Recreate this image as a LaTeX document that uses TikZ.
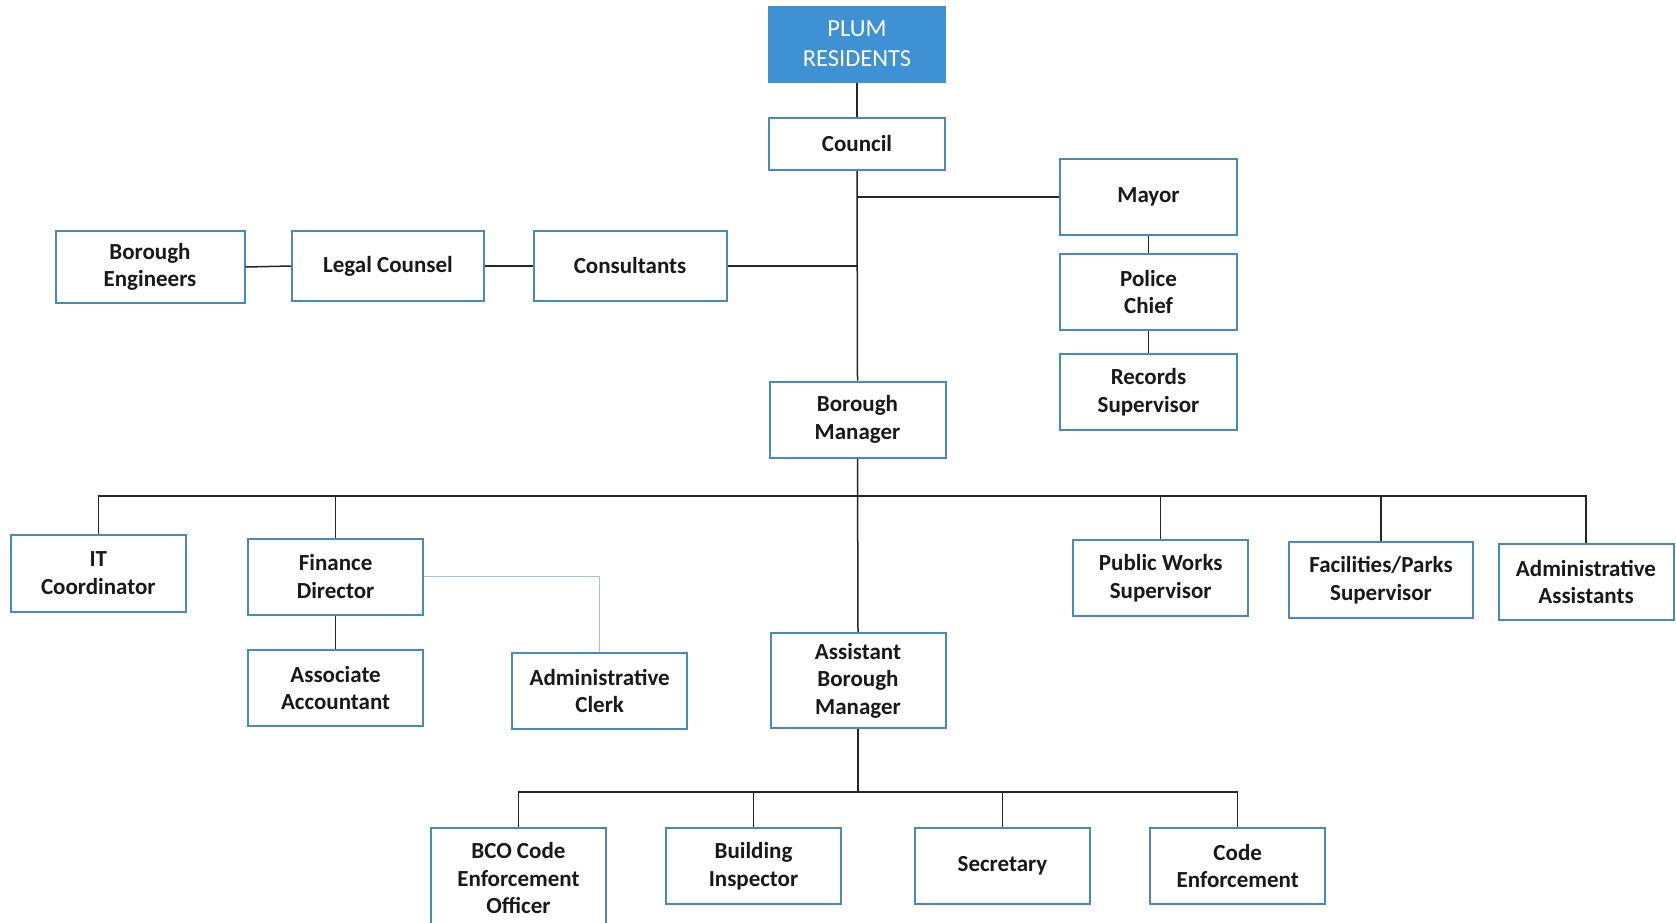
\documentclass[tikz,border=0pt]{standalone}
\usepackage{fontspec}
\setmainfont{Carlito}
\definecolor{boxblue}{RGB}{72,138,190}
\definecolor{topblue}{RGB}{62,145,210}
\definecolor{paleblue}{RGB}{160,196,222}
\tikzset{
    post/.style={draw=boxblue,line width=2pt,fill=white,align=center,inner sep=0pt,
        font=\fontsize{23}{27.5}\selectfont\bfseries,text=black!90},
    head/.style={post,fill=topblue,draw=topblue,text=white,font=\fontsize{24.5}{30}\selectfont},
    link/.style={line width=1.5pt,black!85},
    dotted link/.style={line width=1pt,paleblue}
}
\begin{document}
\begin{tikzpicture}[x=1pt,y=-1pt]
    \clip (0,0) rectangle (1676,922);
    \fill[white] (0,0) rectangle (1676,922);
    % top of the chart
    \node[head,minimum width=176,minimum height=75] (residents) at (857,44) {PLUM\\RESIDENTS};
    \node[post,minimum width=176,minimum height=52] (council) at (857,144) {Council};
    \node[post,minimum width=177,minimum height=76] (mayor) at (1148.5,197) {Mayor};
    \node[post,minimum width=177,minimum height=76] (police) at (1148.5,292) {Police\\Chief};
    \node[post,minimum width=177,minimum height=76] (records) at (1148.5,392) {Records\\Supervisor};
    \node[post,minimum width=189,minimum height=72] (engineers) at (150,267) {Borough\\Engineers};
    \node[post,minimum width=192,minimum height=70] (legal) at (388,266) {Legal Counsel};
    \node[post,minimum width=193,minimum height=70] (consult) at (630,266) {Consultants};
    \node[post,minimum width=176,minimum height=76] (manager) at (857.5,419.5) {Borough\\Manager};
    % departments
    \node[post,minimum width=175,minimum height=77] (it) at (98.3,573) {IT\\Coordinator};
    \node[post,minimum width=175,minimum height=76] (finance) at (335.6,576.6) {Finance\\Director};
    \node[post,minimum width=175,minimum height=76] (accountant) at (335.6,688) {Associate\\Accountant};
    \node[post,minimum width=175,minimum height=76] (clerk) at (599.7,691) {Administrative\\Clerk};
    \node[post,minimum width=175,minimum height=95] (asstmgr) at (858,680.4) {Assistant\\Borough\\Manager};
    \node[post,minimum width=175,minimum height=76] (publicworks) at (1160.7,578) {Public Works\\Supervisor};
    \node[post,minimum width=184,minimum height=76] (parks) at (1381,580) {Facilities/Parks\\Supervisor};
    \node[post,minimum width=175,minimum height=76] (adminasst) at (1586,582) {Administrative\\Assistants};
    % code and building staff
    \node[post,minimum width=175,minimum height=100] (bco) at (518.4,878) {BCO Code\\Enforcement\\Officer};
    \node[post,minimum width=175,minimum height=76] (inspector) at (753.5,866) {Building\\Inspector};
    \node[post,minimum width=175,minimum height=76] (secretary) at (1002.5,866) {Secretary};
    \node[post,minimum width=175,minimum height=76] (codeenf) at (1237.7,866) {Code\\Enforcement};
    \coordinate (deptbus) at (857.5,496);
    \coordinate (staffbus) at (858,792);
    % connectors
    \draw[link] (residents.south) -- (council.north);
    \draw[link] (council.south) -- (manager.north);
    \draw[link] (mayor.west) -- (mayor.west -| council.south);
    \draw[link] (consult.east) -- (consult.east -| council.south);
    \draw[link] (engineers.east) -- (legal.west);
    \draw[link] (legal.east) -- (consult.west);
    \draw[link] (mayor.south) -- (police.north);
    \draw[link] (police.south) -- (records.north);
    \draw[link] (manager.south) -- (asstmgr.north);
    \draw[link] (it.north) |- (deptbus) -| (adminasst.north);
    \foreach \n in {finance,publicworks,parks}
        \draw[link] (\n.north) -- (\n.north |- deptbus);
    \draw[link] (finance.south) -- (accountant.north);
    \draw[dotted link] (finance.east) -| (clerk.north);
    \draw[link] (asstmgr.south) -- (staffbus);
    \draw[link] (bco.north) |- (staffbus) -| (codeenf.north);
    \foreach \n in {inspector,secretary}
        \draw[link] (\n.north) -- (\n.north |- staffbus);
\end{tikzpicture}
\end{document}
